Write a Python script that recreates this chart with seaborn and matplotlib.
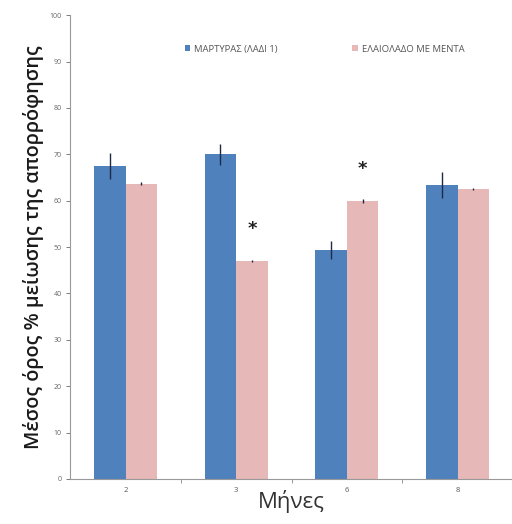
import matplotlib
matplotlib.use("Agg")
import matplotlib.pyplot as plt
import seaborn as sns
import pandas as pd
import numpy as np

months = ["2", "3", "6", "8"]
series_names = ["ΜΑΡΤΥΡΑΣ (ΛΑΔΙ 1)", "ΕΛΑΙΟΛΑΔΟ ΜΕ ΜΕΝΤΑ"]
control_vals = [67.5, 70.0, 49.4, 63.4]
mint_vals = [63.7, 47.0, 59.9, 62.5]
control_err = [2.8, 2.2, 2.0, 2.8]
mint_err = [0.3, 0.2, 0.4, 0.2]
significant = [False, True, True, False]  # asterisk over the mint bar
colors = ["#4F81BD", "#E6B9B8"]

df = pd.DataFrame({
    "month": months * 2,
    "value": control_vals + mint_vals,
    "series": [series_names[0]] * 4 + [series_names[1]] * 4,
})

sns.set_style("white")
plt.rcParams["font.family"] = ["Open Sans", "DejaVu Sans"]

fig = plt.figure(figsize=(5.12, 5.24), dpi=100)
ax = fig.add_axes([0.137, 0.086, 0.865, 0.885])

sns.barplot(data=df, x="month", y="value", hue="series", order=months,
            hue_order=series_names, palette=colors, errorbar=None,
            width=0.57, gap=0, saturation=1, linewidth=0, ax=ax)

errs = [control_err, mint_err]
for cont, err in zip(ax.containers, errs):
    xs = [p.get_x() + p.get_width() / 2 for p in cont.patches]
    ys = [p.get_height() for p in cont.patches]
    ax.errorbar(xs, ys, yerr=err, fmt="none", ecolor="#1f2a44",
                elinewidth=1.0, capsize=0, zorder=5)

mint_cont = ax.containers[1]
for p, sig, e in zip(mint_cont.patches, significant, mint_err):
    if sig:
        ax.text(p.get_x() + p.get_width() / 2, p.get_height() + 7.0, "*",
                ha="center", va="center", fontsize=13, color="#222222",
                fontweight="bold", family="DejaVu Sans")

ax.set_ylim(0, 100)
ax.set_xlim(-0.5, 3.5)
ax.set_yticks(np.arange(0, 101, 10))
ax.tick_params(axis="y", labelsize=5, colors="#666666", length=3,
               width=0.6, direction="out", left=True, pad=3)
ax.tick_params(axis="x", labelsize=5.5, colors="#555555", length=0, pad=6)
ax.set_xticks([0.5, 1.5, 2.5], minor=True)
ax.tick_params(axis="x", which="minor", length=3, width=0.6,
               color="#888888", direction="out", bottom=True)

for s in ["top", "right"]:
    ax.spines[s].set_visible(False)
for s in ["left", "bottom"]:
    ax.spines[s].set_color("#999999")
    ax.spines[s].set_linewidth(0.8)

ax.set_xlabel("Μήνες", fontsize=16, color="#333333", labelpad=-3)
ax.set_ylabel("Μέσος όρος % μείωσης της απορρόφησης", fontsize=14.3,
              color="#1a1a1a", labelpad=4, fontweight="semibold")

leg = ax.legend(loc="upper center", bbox_to_anchor=(0.5745, 0.955), ncol=2,
                frameon=False, fontsize=6.8, handlelength=0.6, handleheight=0.6,
                columnspacing=7.9, handletextpad=0.4, title=None)
for t in leg.get_texts():
    t.set_color("#555555")

fig.savefig("out.png", dpi=100, facecolor="white")
